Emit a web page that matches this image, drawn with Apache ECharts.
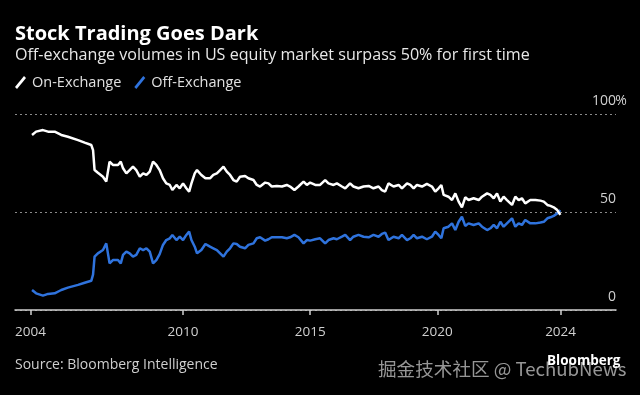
<!DOCTYPE html>
<html>
<head>
<meta charset="utf-8">
<script src="https://cdn.jsdelivr.net/npm/echarts@6/dist/echarts.min.js"></script>
<style>
html,body{margin:0;padding:0;background:#000;}
#c{width:640px;height:395px;}
</style>
</head>
<body>
<div id="c"></div>
<script>
// Decimal-year positions of readings
const dates = [
  2004.06, 2004.22, 2004.49, 2004.69, 2004.95, 2005.21, 2005.47, 2005.87, 2006.13, 2006.39,
  2006.46, 2006.52, 2006.65, 2006.85, 2006.98, 2007.11, 2007.24, 2007.44, 2007.55, 2007.64,
  2007.77, 2007.90, 2008.03, 2008.16, 2008.30, 2008.43, 2008.56, 2008.69, 2008.82, 2008.95,
  2009.08, 2009.21, 2009.34, 2009.48, 2009.58, 2009.74, 2009.87, 2010.00, 2010.13, 2010.24,
  2010.33, 2010.46, 2010.55, 2010.72, 2010.88,
  2011.06, 2011.19, 2011.33, 2011.46, 2011.59, 2011.72, 2011.85, 2011.98,
  2012.11, 2012.24, 2012.44, 2012.57, 2012.77, 2012.90,
  2013.03, 2013.23, 2013.36, 2013.49, 2013.69, 2013.89,
  2014.08, 2014.21, 2014.38, 2014.54, 2014.74, 2014.87,
  2015.00, 2015.20, 2015.39, 2015.59, 2015.72, 2015.92,
  2016.05, 2016.25, 2016.38, 2016.57, 2016.70, 2016.90,
  2017.10, 2017.30, 2017.49, 2017.69, 2017.82, 2017.95,
  2018.08, 2018.28, 2018.48, 2018.61, 2018.81, 2018.94,
  2019.07, 2019.20, 2019.40, 2019.59, 2019.79, 2019.92,
  2020.05, 2020.16, 2020.25, 2020.44, 2020.58, 2020.71, 2020.84, 2020.97,
  2021.10, 2021.23, 2021.43, 2021.63, 2021.76, 2021.96,
  2022.09, 2022.22, 2022.35, 2022.48, 2022.61, 2022.74, 2022.94,
  2023.07, 2023.20, 2023.33, 2023.46, 2023.66, 2023.86,
  2024.06, 2024.19, 2024.33, 2024.45, 2024.58, 2024.72, 2024.84
];
const onExchange = [
  89.3, 91, 91.8, 91, 91, 89.3, 88.4, 86.7, 85.4, 84.2,
  81.6, 71.4, 70, 68, 65.5, 75.7, 74, 74, 75.7, 72.3,
  69.7, 71.4, 73.1, 71.4, 68, 69.7, 68.9, 70.6, 75.7, 74,
  71.4, 67.2, 64.6, 63.8, 61.2, 63.8, 62.1, 64.6, 62.1, 60.4,
  64.6, 69.7, 71.4, 68.9, 67.2,
  67.2, 68.9, 69.7, 71.4, 73.1, 70.6, 68.9, 66.3,
  65.5, 68, 68.4, 67.2, 66.3, 63.8,
  63, 65, 64.6, 63, 63.3, 63,
  63.8, 63, 61.2, 63, 65.5, 63.8,
  65, 63.8, 63.8, 66.3, 64.6, 63.8,
  64.6, 63, 62.1, 64.6, 63, 62.1,
  63, 63.3, 62.1, 63, 61.2, 60.4,
  64.6, 63, 63.8, 62.1, 64.6, 63.8,
  62.1, 63.8, 63, 64.3, 63, 60.4,
  62.1, 63.8, 58.7, 57.8, 56.1, 59.5, 55.3, 52.4,
  57.5, 56.1, 57, 56.1, 57.8, 59.5,
  58.7, 57, 59.5, 55.3, 57.8, 56.1, 53.6,
  57.8, 56.1, 57, 54.4, 56.1, 56.1,
  55.8, 55.3, 53.6, 53.1, 52.4, 51, 48.5
];
const offExchange = [
  10.2, 8.5, 7.3, 8.2, 8.5, 10.2, 11.4, 12.8, 13.9, 14.9,
  18, 27.2, 28.9, 30.6, 34, 23.8, 25.5, 25.5, 23.8, 28.1,
  29.8, 28.9, 27.2, 28.1, 31.5, 30.6, 31.5, 29.8, 23.8, 25.5,
  28.5, 33.2, 35.7, 36.6, 38.3, 35.7, 37.4, 35.7, 38.3, 40,
  35.7, 32.3, 28.9, 30.6, 33.7,
  32.3, 31.5, 30.6, 28.9, 27.2, 29.8, 31.5, 34,
  33.7, 32.3, 31.5, 33.2, 34, 36.6,
  37.1, 35.4, 36.1, 37.1, 37.1, 37.1,
  36.6, 37.1, 38.3, 37.1, 34, 35.7,
  35.4, 36.1, 36.6, 34, 35.7, 36.6,
  36.1, 37.4, 38.3, 35.7, 37.4, 38.3,
  37.4, 37.1, 38.3, 37.4, 38.8, 39.5,
  35.7, 37.4, 36.6, 38.3, 35.7, 36.6,
  38.3, 36.6, 37.4, 36.1, 37.4, 40,
  38.3, 36.6, 41.7, 42.5, 44.2, 40.8, 45, 47.6,
  42.9, 44.2, 43.4, 44.2, 42.5, 40.8,
  41.7, 43.4, 41.7, 45, 42.5, 44.2, 46.8,
  42.5, 44.2, 43.4, 45.9, 44.2, 44.2,
  44.6, 45, 46.8, 47.3, 48, 49.3, 51
];
const xTickValues = [2004, 2010, 2015, 2020, 2024.85];
const xTickLabels = ['2004', '2010', '2015', '2020', '2024'];
const yTicks = [0, 50, 100];

const FONT = '"Open Sans", Roboto, "DejaVu Sans", sans-serif';
const chart = echarts.init(document.getElementById('c'), null, {renderer: 'canvas'});
chart.setOption({
  backgroundColor: '#000',
  animation: false,
  title: [
    {text: 'Stock Trading Goes Dark', left: 10, top: 19,
     textStyle: {color: '#fff', fontSize: 20, fontWeight: 'bold', fontFamily: FONT, lineHeight: 20}},
    {text: 'Off-exchange volumes in US equity market surpass 50% for first time', left: 10, top: 41,
     textStyle: {color: '#e8e8e8', fontSize: 16.1, fontWeight: 'normal', fontFamily: FONT, lineHeight: 18}},
    {text: 'Source: Bloomberg Intelligence', left: 10, top: 352,
     textStyle: {color: '#cfcfcf', fontSize: 14, fontWeight: 'normal', fontFamily: FONT, lineHeight: 16}}
  ],
  graphic: [
    {type: 'text', left: 378, top: 360, z: 10,
     style: {text: '掘金技术社区 @ TechubNews', fill: 'rgba(200,200,200,0.75)', font: '18.6px "Noto Sans CJK SC", sans-serif'}},
    {type: 'text', left: 547, top: 354, z: 11,
     style: {text: 'Bloomberg', fill: '#fff', font: 'bold 13.5px ' + FONT}}
  ],
  legend: {
    left: 10, top: 70, itemWidth: 13, itemHeight: 13, itemGap: 13,
    textStyle: {color: '#e0e0e0', fontSize: 14.5, fontFamily: FONT},
    data: [
      {name: 'On-Exchange', icon: 'path://M0,11 L9,0 L11,2 L2,13 Z', itemStyle: {color: '#fff'}},
      {name: 'Off-Exchange', icon: 'path://M0,11 L9,0 L11,2 L2,13 Z', itemStyle: {color: '#2f73dd'}}
    ]
  },
  grid: {left: 15, right: 24, top: 114, bottom: 85},
  xAxis: {
    type: 'value', min: 2003.39, max: 2027.03,
    axisLine: {show: true, lineStyle: {color: '#cfcfcf', width: 1.5}},
    axisTick: {show: true, length: 5, customValues: xTickValues, lineStyle: {color: '#cfcfcf', width: 1.5}},
    axisLabel: {customValues: xTickValues, margin: 15, color: '#d0d0d0', fontSize: 13.5, fontFamily: FONT,
      formatter: function (v) { const i = xTickValues.indexOf(v); return i >= 0 ? xTickLabels[i] : ''; }},
    splitLine: {show: false}
  },
  yAxis: {
    type: 'value', position: 'right', min: 0, max: 100, interval: 50,
    axisLine: {show: false}, axisTick: {show: false},
    axisLabel: {inside: true, margin: -10, verticalAlign: 'bottom', padding: [0, 0, 6, 0],
      color: '#d0d0d0', fontSize: 14, fontFamily: FONT,
      formatter: function (v) { return v === 100 ? '{n|100}{p|%}' : '{n|' + v + '}{p| }'; },
      rich: {n: {color: '#d0d0d0', fontSize: 14, fontFamily: FONT},
             p: {color: '#d0d0d0', fontSize: 14, fontFamily: FONT, width: 10, align: 'left'}}},
    splitLine: {show: true, lineStyle: {color: '#8a8a8a', type: [2, 3], width: 1}}
  },
  series: [
    {name: 'On-Exchange', type: 'line', showSymbol: false, symbol: 'none',
     data: dates.map((d, i) => [d, onExchange[i]]),
     lineStyle: {color: '#fff', width: 2.5}, itemStyle: {color: '#fff'}, z: 3},
    {name: 'Off-Exchange', type: 'line', showSymbol: false, symbol: 'none',
     data: dates.map((d, i) => [d, offExchange[i]]),
     lineStyle: {color: '#2f73dd', width: 2.5}, itemStyle: {color: '#2f73dd'}, z: 2}
  ]
});
</script>
</body>
</html>
